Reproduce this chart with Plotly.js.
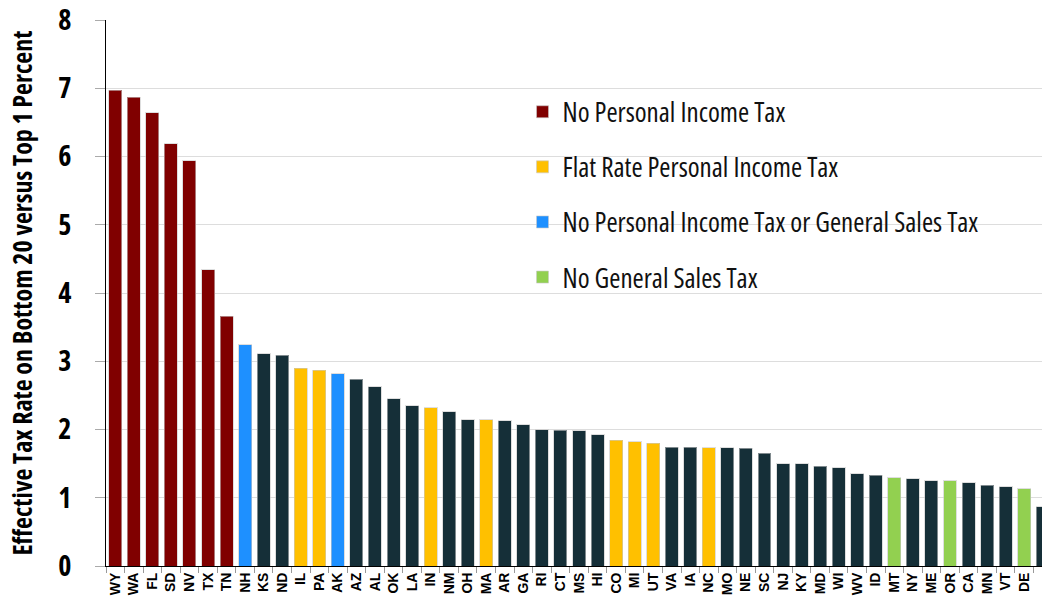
<!DOCTYPE html>
<html>
<head>
<meta charset="utf-8">
<script src="https://cdn.plot.ly/plotly-3.0.1.min.js"></script>
<style>
html,body{margin:0;padding:0;background:#fff;}
#chart{width:1042px;height:603px;}
#chart .legendtext { font-stretch: 75% !important; }
#chart .ytick text, #chart .ytitle { font-stretch: 75% !important; }
</style>
</head>
<body>
<div id="chart"></div>
<script>
const states = ["WY","WA","FL","SD","NV","TX","TN","NH","KS","ND","IL","PA","AK","AZ","AL","OK","LA","IN","NM","OH","MA","AR","GA","RI","CT","MS","HI","CO","MI","UT","VA","IA","NC","MO","NE","SC","NJ","KY","MD","WI","WV","ID","MT","NY","ME","OR","CA","MN","VT","DE","DC"];
const values = [6.97,6.87,6.64,6.19,5.94,4.34,3.66,3.24,3.11,3.09,2.90,2.87,2.82,2.74,2.63,2.45,2.35,2.32,2.26,2.14,2.14,2.13,2.07,2.00,1.99,1.98,1.92,1.84,1.82,1.80,1.74,1.74,1.735,1.735,1.725,1.65,1.50,1.50,1.46,1.44,1.35,1.33,1.29,1.28,1.25,1.25,1.22,1.18,1.16,1.13,0.87];
const groups = ["noPIT","noPIT","noPIT","noPIT","noPIT","noPIT","noPIT","noBoth","other","other","flat","flat","noBoth","other","other","other","other","flat","other","other","flat","other","other","other","other","other","other","flat","flat","flat","other","other","flat","other","other","other","other","other","other","other","other","other","noGST","other","other","noGST","other","other","other","noGST","other"];
const groupKeys = ["noPIT","flat","noBoth","noGST","other"];
const groupNames = ["No Personal Income Tax","Flat Rate Personal Income Tax","No Personal Income Tax or General Sales Tax","No General Sales Tax",""];
const groupColors = ["#800000","#FFC000","#1E90FF","#92D050","#152F38"];
const yTicks = [0,1,2,3,4,5,6,7,8];

const COND = "Open Sans, sans-serif";

const traces = groupKeys.map((g, gi) => {
  const xs = [], ys = [];
  states.forEach((s, i) => { if (groups[i] === g) { xs.push(s); ys.push(values[i]); } });
  return {
    type: "bar",
    x: xs, y: ys,
    name: groupNames[gi],
    legendgroup: g,
    showlegend: g !== "other",
    marker: { color: groupColors[gi], line: { color: "rgba(200,200,200,0.6)", width: 1 } },
    hoverinfo: "x+y"
  };
});

const layout = {
  width: 1042, height: 603,
  margin: { l: 106, r: 0, t: 20, b: 37, autoexpand: false },
  paper_bgcolor: "#fff", plot_bgcolor: "#fff",
  barmode: "stack",
  bargap: 0.3,
  showlegend: true,
  legend: {
    x: 0.445, y: 0.876, xanchor: "left", yanchor: "top",
    traceorder: "grouped", tracegroupgap: 17,
    font: { family: COND, size: 27, color: "#111" },
    bgcolor: "rgba(0,0,0,0)"
  },
  xaxis: {
    type: "category",
    categoryorder: "array", categoryarray: states,
    range: [-0.5, 49.96],
    tickangle: -90,
    tickson: "boundaries",
    ticks: "outside", ticklen: 6, tickcolor: "#999", tickwidth: 1,
    tickfont: { family: "Liberation Sans, Arial, sans-serif", size: 14, weight: "bold", color: "#000" },
    showline: true, linecolor: "#000", linewidth: 1,
    showgrid: false, zeroline: false, fixedrange: true, automargin: false
  },
  yaxis: {
    range: [0, 8],
    tickvals: yTicks, ticktext: yTicks.map(String),
    ticks: "outside", ticklen: 10, tickcolor: "#aaa", tickwidth: 1,
    ticklabelstandoff: 18,
    ticklabeloverflow: "allow",
    tickfont: { family: COND, size: 28, weight: "bold", color: "#000" },
    showline: true, linecolor: "#000", linewidth: 1,
    showgrid: true, gridcolor: "#dddddd", gridwidth: 1,
    zeroline: false, fixedrange: true, automargin: false,
    title: { text: "Effective Tax Rate on Bottom 20 versus Top 1 Percent", standoff: 15,
             font: { family: COND, size: 26, weight: "bold", color: "#000" } }
  }
};

Plotly.newPlot("chart", traces, layout, { displayModeBar: false, staticPlot: true });
</script>
</body>
</html>
